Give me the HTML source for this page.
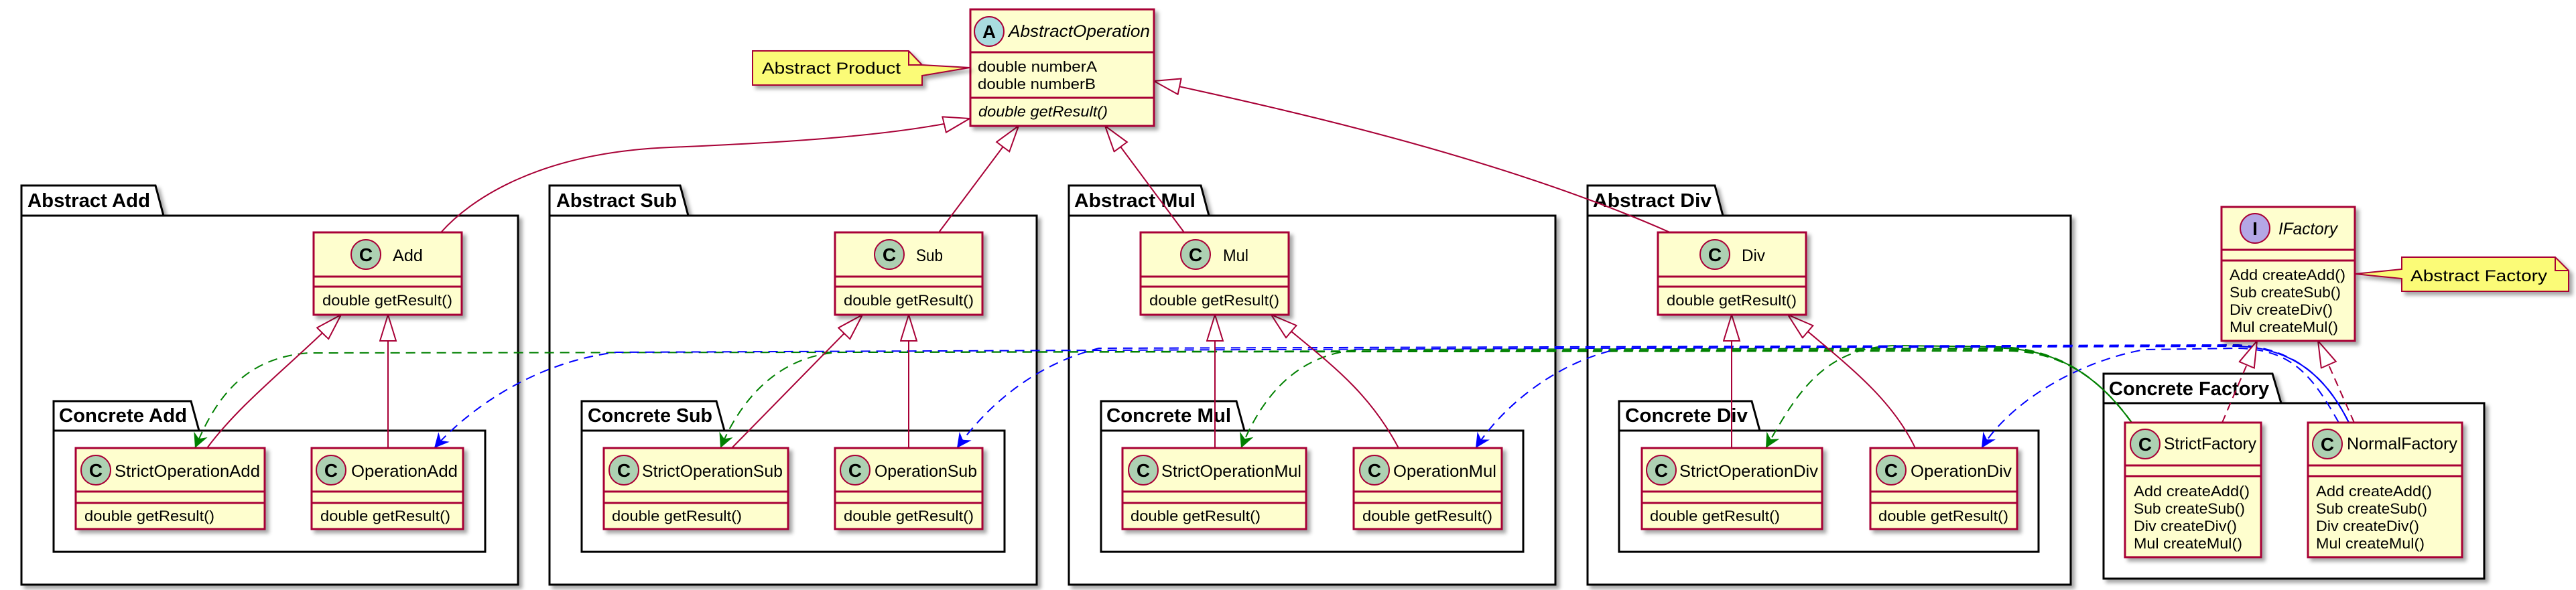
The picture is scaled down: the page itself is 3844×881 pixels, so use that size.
<!DOCTYPE html>
<html><head><meta charset="utf-8"><style>
html,body{margin:0;padding:0;background:#fff;}
svg{display:block;}
text{font-family:"Liberation Sans",sans-serif;fill:#000;}
</style></head><body>
<svg width="3844" height="881" viewBox="0 0 3844 881" xmlns="http://www.w3.org/2000/svg">
<defs>
<filter id="sh" x="-5%" y="-5%" width="115%" height="120%"><feDropShadow dx="5" dy="5" stdDeviation="3" flood-color="#000" flood-opacity="0.35"/></filter>
<marker id="tri" markerUnits="userSpaceOnUse" markerWidth="44" markerHeight="30" refX="40" refY="13" orient="auto"><path d="M1,1 L40,13 L1,25 z" fill="#fff" stroke="#A80036" stroke-width="2"/></marker>
<marker id="ga" markerUnits="userSpaceOnUse" markerWidth="24" markerHeight="24" refX="22" refY="11" orient="auto"><path d="M0,0 L22,11 L0,22 L7,11 z" fill="#008000"/></marker>
<marker id="ba" markerUnits="userSpaceOnUse" markerWidth="24" markerHeight="24" refX="22" refY="11" orient="auto"><path d="M0,0 L22,11 L0,22 L7,11 z" fill="#0000FF"/></marker>
</defs>

<!-- packages -->
<g fill="#fff" stroke="#000" stroke-width="3" filter="url(#sh)">
<path d="M32,322 L32,277 L232,277 L244,322 Z M32,322 L773,322 L773,873 L32,873 Z"/>
<path d="M820,322 L820,277 L1015,277 L1027,322 Z M820,322 L1547,322 L1547,873 L820,873 Z"/>
<path d="M1595,322 L1595,277 L1792,277 L1804,322 Z M1595,322 L2321,322 L2321,873 L1595,873 Z"/>
<path d="M2369,322 L2369,277 L2559,277 L2571,322 Z M2369,322 L3090,322 L3090,873 L2369,873 Z"/>
<path d="M80,643 L80,599 L285,599 L297,643 Z M80,643 L724,643 L724,824 L80,824 Z"/>
<path d="M868,643 L868,599 L1069,599 L1081,643 Z M868,643 L1499,643 L1499,824 L868,824 Z"/>
<path d="M1643,643 L1643,599 L1845,599 L1857,643 Z M1643,643 L2273,643 L2273,824 L1643,824 Z"/>
<path d="M2416,643 L2416,599 L2614,599 L2626,643 Z M2416,643 L3042,643 L3042,824 L2416,824 Z"/>
<path d="M3139,602 L3139,558 L3391,558 L3404,602 Z M3139,602 L3707,602 L3707,864 L3139,864 Z"/>
</g>
<g font-weight="bold" font-size="29" lengthAdjust="spacingAndGlyphs">
<text x="41" y="309" textLength="183" lengthAdjust="spacingAndGlyphs">Abstract Add</text>
<text x="830" y="309" textLength="180" lengthAdjust="spacingAndGlyphs">Abstract Sub</text>
<text x="1603" y="309" textLength="181" lengthAdjust="spacingAndGlyphs">Abstract Mul</text>
<text x="2377" y="309" textLength="177" lengthAdjust="spacingAndGlyphs">Abstract Div</text>
<text x="88" y="630" textLength="191" lengthAdjust="spacingAndGlyphs">Concrete Add</text>
<text x="877" y="630" textLength="186" lengthAdjust="spacingAndGlyphs">Concrete Sub</text>
<text x="1651" y="630" textLength="186" lengthAdjust="spacingAndGlyphs">Concrete Mul</text>
<text x="2425" y="630" textLength="183" lengthAdjust="spacingAndGlyphs">Concrete Div</text>
<text x="3147" y="590" textLength="239" lengthAdjust="spacingAndGlyphs">Concrete Factory</text>
</g>

<!-- dependency lines -->
<g fill="none" stroke-width="2" stroke-dasharray="14,9">
<path stroke="#008000" marker-end="url(#ga)" d="M3181,631 C3130,560 3070,523 2990,518 L2830,516 C2720,518 2680,590 2635,669"/>
<path stroke="#008000" marker-end="url(#ga)" d="M3181,631 C3130,560 3070,523 2990,520 L2030,522 C1930,528 1880,600 1852,669"/>
<path stroke="#008000" marker-end="url(#ga)" d="M3181,631 C3130,560 3070,523 2990,522 L1250,526 C1150,534 1100,610 1075,669"/>
<path stroke="#008000" marker-end="url(#ga)" d="M3181,631 C3130,560 3070,523 2990,524 L460,527 C360,535 320,600 291,669"/>
<path stroke="#0000FF" marker-end="url(#ba)" d="M3490,631 C3450,560 3420,522 3340,520 L3200,522 C3100,540 3000,600 2957,669"/>
<path stroke="#0000FF" marker-end="url(#ba)" d="M3505,631 C3470,560 3420,520 3340,517 L2420,520 C2320,540 2240,610 2202,669"/>
<path stroke="#0000FF" marker-end="url(#ba)" d="M3505,631 C3470,560 3420,520 3340,515 L1640,520 C1540,545 1470,610 1428,669"/>
<path stroke="#0000FF" marker-end="url(#ba)" d="M3505,631 C3470,560 3420,520 3340,516 L920,526 C800,540 700,610 648,669"/>
</g>
<g fill="none" stroke-width="2">
<path stroke="#008000" d="M3181,631 C3130,560 3070,523 2990,520"/>
<path stroke="#0000FF" d="M3505,631 C3470,560 3420,520 3340,517"/>
</g>

<!-- inheritance lines -->
<g fill="none" stroke="#A80036" stroke-width="2" marker-end="url(#tri)">
<path d="M658,347 C700,300 800,228 1000,220 C1200,212 1350,200 1447,177"/>
<path d="M1401,347 L1520,188"/>
<path d="M1767,347 L1649,188"/>
<path d="M2492,347 C2250,240 1950,170 1722,121"/>
<path d="M309,669 C360,600 440,540 509,470"/>
<path d="M579,669 L579,470"/>
<path d="M1092,669 L1287,470"/>
<path d="M1356,669 L1356,470"/>
<path d="M1813,669 L1813,470"/>
<path d="M2087,669 C2040,580 1980,540 1897,470"/>
<path d="M2584,669 L2584,470"/>
<path d="M2858,669 C2820,590 2750,540 2668,470"/>
<path stroke-dasharray="12,8" d="M3316,631 L3368,509"/>
<path stroke-dasharray="12,8" d="M3513,631 L3459,509"/>
</g>

<!-- classes -->
<g fill="#FEFECE" stroke="#A80036" stroke-width="3" filter="url(#sh)">
<rect x="1448" y="14" width="274" height="174"/>
<rect x="468" y="347" width="221" height="123"/>
<rect x="1246" y="347" width="220" height="123"/>
<rect x="1702" y="347" width="221" height="123"/>
<rect x="2474" y="347" width="221" height="123"/>
<rect x="113" y="669" width="282" height="121"/>
<rect x="465" y="669" width="226" height="121"/>
<rect x="901" y="669" width="275" height="121"/>
<rect x="1246" y="669" width="220" height="121"/>
<rect x="1675" y="669" width="274" height="121"/>
<rect x="2020" y="669" width="221" height="121"/>
<rect x="2450" y="669" width="269" height="121"/>
<rect x="2791" y="669" width="219" height="121"/>
<rect x="3315" y="309" width="199" height="200"/>
<rect x="3171" y="631" width="203" height="201"/>
<rect x="3444" y="631" width="230" height="201"/>
</g>
<g stroke="#A80036" stroke-width="3">
<path d="M1448,78 H1722 M1448,146 H1722"/>
<path d="M468,413 H689 M468,428 H689 M1246,413 H1466 M1246,428 H1466 M1702,413 H1923 M1702,428 H1923 M2474,413 H2695 M2474,428 H2695"/>
<path d="M113,734 H395 M113,751 H395 M465,734 H691 M465,751 H691 M901,734 H1176 M901,751 H1176 M1246,734 H1466 M1246,751 H1466 M1675,734 H1949 M1675,751 H1949 M2020,734 H2241 M2020,751 H2241 M2450,734 H2719 M2450,751 H2719 M2791,734 H3010 M2791,751 H3010"/>
<path d="M3315,373 H3514 M3315,389 H3514 M3171,695 H3374 M3171,711 H3374 M3444,695 H3674 M3444,711 H3674"/>
</g>
<!-- circles -->
<g stroke="#A80036" stroke-width="2">
<circle cx="1476" cy="47" r="22" fill="#A9DCDF"/>
<circle cx="3365" cy="341" r="22" fill="#B4A7E5"/>
<g fill="#ADD1B2">
<circle cx="546" cy="380" r="22"/><circle cx="1327" cy="380" r="22"/><circle cx="1784" cy="380" r="22"/><circle cx="2559" cy="380" r="22"/>
<circle cx="143" cy="702" r="22"/><circle cx="494" cy="702" r="22"/><circle cx="931" cy="702" r="22"/><circle cx="1276" cy="702" r="22"/>
<circle cx="1706" cy="702" r="22"/><circle cx="2051" cy="702" r="22"/><circle cx="2479" cy="702" r="22"/><circle cx="2822" cy="702" r="22"/>
<circle cx="3201" cy="663" r="22"/><circle cx="3473" cy="663" r="22"/>
</g></g>
<g font-weight="bold" font-size="28" text-anchor="middle">
<text x="1476" y="57">A</text><text x="3365" y="351">I</text>
<text x="546" y="390">C</text><text x="1327" y="390">C</text><text x="1784" y="390">C</text><text x="2559" y="390">C</text>
<text x="143" y="712">C</text><text x="494" y="712">C</text><text x="931" y="712">C</text><text x="1276" y="712">C</text>
<text x="1706" y="712">C</text><text x="2051" y="712">C</text><text x="2479" y="712">C</text><text x="2822" y="712">C</text>
<text x="3201" y="673">C</text><text x="3473" y="673">C</text>
</g>

<!-- class texts -->
<g font-size="25">
<text x="1505" y="55" font-style="italic" textLength="211" lengthAdjust="spacingAndGlyphs">AbstractOperation</text>
<text x="586" y="390" textLength="45" lengthAdjust="spacingAndGlyphs">Add</text>
<text x="1367" y="390" textLength="40" lengthAdjust="spacingAndGlyphs">Sub</text>
<text x="1825" y="390" textLength="38" lengthAdjust="spacingAndGlyphs">Mul</text>
<text x="2599" y="390" textLength="35" lengthAdjust="spacingAndGlyphs">Div</text>
<text x="171" y="712" textLength="217" lengthAdjust="spacingAndGlyphs">StrictOperationAdd</text>
<text x="524" y="712" textLength="159" lengthAdjust="spacingAndGlyphs">OperationAdd</text>
<text x="958" y="712" textLength="210" lengthAdjust="spacingAndGlyphs">StrictOperationSub</text>
<text x="1305" y="712" textLength="153" lengthAdjust="spacingAndGlyphs">OperationSub</text>
<text x="1733" y="712" textLength="209" lengthAdjust="spacingAndGlyphs">StrictOperationMul</text>
<text x="2079" y="712" textLength="154" lengthAdjust="spacingAndGlyphs">OperationMul</text>
<text x="2506" y="712" textLength="207" lengthAdjust="spacingAndGlyphs">StrictOperationDiv</text>
<text x="2851" y="712" textLength="151" lengthAdjust="spacingAndGlyphs">OperationDiv</text>
<text x="3400" y="350" font-style="italic" textLength="88" lengthAdjust="spacingAndGlyphs">IFactory</text>
<text x="3229" y="671" textLength="138" lengthAdjust="spacingAndGlyphs">StrictFactory</text>
<text x="3502" y="671" textLength="165" lengthAdjust="spacingAndGlyphs">NormalFactory</text>
</g>
<g font-size="22">
<text x="1459" y="107" textLength="178" lengthAdjust="spacingAndGlyphs">double numberA</text>
<text x="1459" y="133" textLength="176" lengthAdjust="spacingAndGlyphs">double numberB</text>
<text x="1460" y="174" font-style="italic" textLength="193" lengthAdjust="spacingAndGlyphs">double getResult()</text>
<text x="481" y="456" textLength="194" lengthAdjust="spacingAndGlyphs">double getResult()</text>
<text x="1259" y="456" textLength="194" lengthAdjust="spacingAndGlyphs">double getResult()</text>
<text x="1715" y="456" textLength="194" lengthAdjust="spacingAndGlyphs">double getResult()</text>
<text x="2487" y="456" textLength="194" lengthAdjust="spacingAndGlyphs">double getResult()</text>
<text x="126" y="778" textLength="194" lengthAdjust="spacingAndGlyphs">double getResult()</text>
<text x="478" y="778" textLength="194" lengthAdjust="spacingAndGlyphs">double getResult()</text>
<text x="913" y="778" textLength="194" lengthAdjust="spacingAndGlyphs">double getResult()</text>
<text x="1259" y="778" textLength="194" lengthAdjust="spacingAndGlyphs">double getResult()</text>
<text x="1687" y="778" textLength="194" lengthAdjust="spacingAndGlyphs">double getResult()</text>
<text x="2033" y="778" textLength="194" lengthAdjust="spacingAndGlyphs">double getResult()</text>
<text x="2462" y="778" textLength="194" lengthAdjust="spacingAndGlyphs">double getResult()</text>
<text x="2803" y="778" textLength="194" lengthAdjust="spacingAndGlyphs">double getResult()</text>
<text x="3327" y="418" textLength="173" lengthAdjust="spacingAndGlyphs">Add createAdd()</text>
<text x="3327" y="444" textLength="166" lengthAdjust="spacingAndGlyphs">Sub createSub()</text>
<text x="3327" y="470" textLength="154" lengthAdjust="spacingAndGlyphs">Div createDiv()</text>
<text x="3327" y="496" textLength="162" lengthAdjust="spacingAndGlyphs">Mul createMul()</text>
<text x="3184" y="741" textLength="173" lengthAdjust="spacingAndGlyphs">Add createAdd()</text>
<text x="3184" y="767" textLength="166" lengthAdjust="spacingAndGlyphs">Sub createSub()</text>
<text x="3184" y="793" textLength="154" lengthAdjust="spacingAndGlyphs">Div createDiv()</text>
<text x="3184" y="819" textLength="162" lengthAdjust="spacingAndGlyphs">Mul createMul()</text>
<text x="3456" y="741" textLength="173" lengthAdjust="spacingAndGlyphs">Add createAdd()</text>
<text x="3456" y="767" textLength="166" lengthAdjust="spacingAndGlyphs">Sub createSub()</text>
<text x="3456" y="793" textLength="154" lengthAdjust="spacingAndGlyphs">Div createDiv()</text>
<text x="3456" y="819" textLength="162" lengthAdjust="spacingAndGlyphs">Mul createMul()</text>
</g>

<!-- notes -->
<g fill="#FBFB77" stroke="#A80036" stroke-width="2" filter="url(#sh)">
<path d="M1123,76 L1356,76 L1376,97 L1447,101 L1376,113 L1376,127 L1123,127 Z"/>
<path d="M3584,384 L3813,384 L3833,404 L3833,435 L3584,435 L3584,416 L3514,409 L3584,402 Z"/>
</g>
<path d="M1356,76 L1356,97 L1376,97 M3813,384 L3813,404 L3833,404" fill="none" stroke="#A80036" stroke-width="2"/>
<g font-size="24">
<text x="1137" y="110" textLength="207" lengthAdjust="spacingAndGlyphs">Abstract Product</text>
<text x="3597" y="420" textLength="204" lengthAdjust="spacingAndGlyphs">Abstract Factory</text>
</g>
</svg>
</body></html>
